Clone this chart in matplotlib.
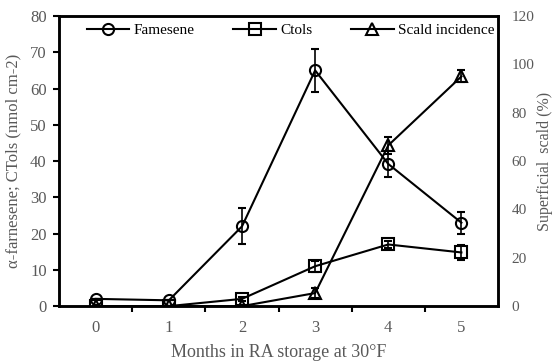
from matplotlib import pyplot as plt
from matplotlib.lines import Line2D

MONTHS = [0, 1, 2, 3, 4, 5]
FARNESENE = [2.0, 1.6, 22.0, 65.0, 39.2, 23.0]
FARNESENE_ERR = [0.0, 0.0, 5.0, 6.0, 3.5, 3.0]
CTOLS = [0.0, 0.0, 2.0, 11.0, 17.0, 14.8]
CTOLS_ERR = [0.0, 0.0, 0.5, 1.5, 1.0, 2.0]
SCALD = [0.0, 0.0, 0.0, 5.4, 66.5, 95.0]
SCALD_ERR = [0.0, 0.0, 0.0, 2.0, 3.5, 2.5]
LABELS = ['Famesene', 'Ctols', 'Scald incidence']

plt.rcParams['font.family'] = ['Liberation Serif', 'DejaVu Serif']
GREY = '#595959'

fig = plt.figure(figsize=(5.53, 3.64), dpi=100)
ax = fig.add_axes([0.107, 0.159, 0.7935, 0.797])
ax2 = ax.twinx()

style = dict(color='black', lw=1.5, ms=8, mfc='none', mew=1.5,
             capsize=3, elinewidth=1.2, capthick=1.2)
ax.errorbar(MONTHS, FARNESENE, yerr=FARNESENE_ERR, marker='o', **style)
ax.errorbar(MONTHS, CTOLS, yerr=CTOLS_ERR, marker='s', **style)
ax2.errorbar(MONTHS, SCALD, yerr=SCALD_ERR, marker='^', **style)

ax.set_xlim(-0.5, 5.5)
ax.set_ylim(0, 80)
ax2.set_ylim(0, 120)
ax.set_yticks(range(0, 81, 10))
ax2.set_yticks(range(0, 121, 20))
ax.set_xticks(MONTHS)
ax.set_xticks([0.5, 1.5, 2.5, 3.5, 4.5], minor=True)
ax.tick_params(axis='x', which='major', length=0, pad=10, labelsize=12, labelcolor=GREY)
ax.tick_params(axis='x', which='minor', length=4, width=1.5, direction='out')
ax.tick_params(axis='y', length=4, width=1.5, direction='out', pad=5, labelsize=12, labelcolor=GREY)
ax2.tick_params(axis='y', length=0, pad=10, labelsize=11, labelcolor=GREY)

for a in (ax, ax2):
    for s in a.spines.values():
        s.set_linewidth(1.8)

ax.set_xlabel('Months in RA storage at 30°F', fontsize=13, color=GREY, labelpad=6)
ax.set_ylabel('α-farnesene; CTols (nmol cm-2)', fontsize=12, color=GREY, labelpad=6)
ax2.set_ylabel('Superficial  scald (%)', fontsize=11.5, color=GREY)
ax2.yaxis.set_label_coords(1.088, 0.5)

handles = [Line2D([], [], color='black', lw=1.5, marker=m, ms=8, mfc='none', mew=1.5)
           for m in ['o', 's', '^']]
ax.legend(handles, LABELS, loc='upper right',
          ncol=3, frameon=False, fontsize=11, handlelength=2.8, columnspacing=2.5,
          handletextpad=0.3, bbox_to_anchor=(1.01, 1.0), borderaxespad=0.0, borderpad=0.5)

plt.savefig('out.png', dpi=100)
